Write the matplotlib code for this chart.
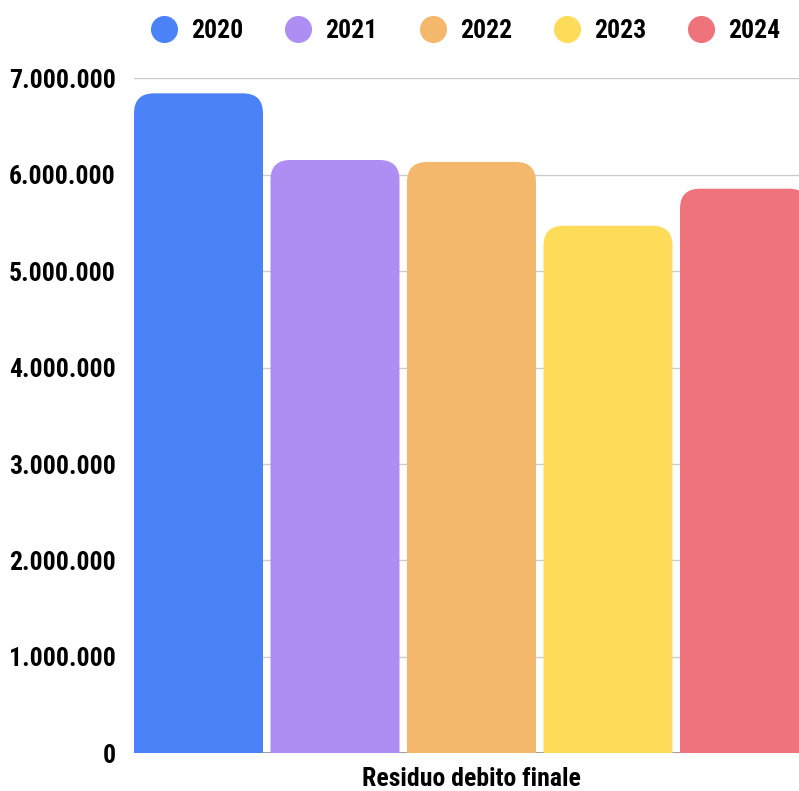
import matplotlib.pyplot as plt
from matplotlib import font_manager as fm
from matplotlib.patches import FancyBboxPatch
from matplotlib.lines import Line2D

# font stretto se disponibile
names = {f.name for f in fm.fontManager.ttflist}
font = 'DejaVu Sans'
for cand in ['Liberation Sans Narrow', 'Roboto Condensed', 'Open Sans Condensed',
             'Noto Sans Condensed']:
    if cand in names:
        font = cand
        break
plt.rcParams['font.family'] = [font, 'DejaVu Sans']
plt.rcParams['font.stretch'] = 'condensed'
plt.rcParams['font.weight'] = 'bold'

# dati
categories = ['Residuo debito finale']
years = ['2020', '2021', '2022', '2023', '2024']
values = [6844000, 6153000, 6132000, 5471000, 5855000]
colors = ['#4c82f7', '#af8ef3', '#f3b86c', '#fedc5a', '#ef737b']

fig = plt.figure(figsize=(7.99, 7.91), dpi=100)
ax = fig.add_axes([134 / 799, 37.7 / 791, 675 / 799, 675 / 791])

n = len(years)
slot = 1.0 / n
bar_w = slot * 0.945
for i, (y, v, c) in enumerate(zip(years, values, colors)):
    xpos = (i - (n - 1) / 2) * slot
    bars = ax.bar(xpos, v, width=bar_w, color=c, label=y)
    # sostituisco con rettangoli arrotondati in alto
    for r in bars:
        r.set_visible(False)
        px_x = 682.5          # pixel per unità x
        px_y = 96.43 / 1e6    # pixel per unità y
        rad = 20
        rx = rad / px_x
        ry = rad / px_y
        p = FancyBboxPatch((r.get_x(), -2 * ry), r.get_width(), r.get_height() + 2 * ry,
                           boxstyle=f'round,pad=0,rounding_size={rx}',
                           mutation_aspect=ry / rx, facecolor=c, edgecolor='none',
                           zorder=2)
        ax.add_patch(p)

ax.set_xlim(-0.4945, 0.4945)
ax.set_ylim(0, 7000000)
ax.set_yticks(range(0, 7000001, 1000000))
ax.set_yticklabels([f'{t:,}'.replace(',', '.') for t in range(0, 7000001, 1000000)])
ax.set_xticks([0], categories)

ax.grid(axis='y', color='#cccccc', linewidth=1)
ax.set_axisbelow(True)
ax.axhline(0, color='#9e9e9e', linewidth=1.5, zorder=1)
for s in ax.spines.values():
    s.set_visible(False)
fs = 18.5 if font != 'DejaVu Sans' else 16
ax.tick_params(axis='y', length=0, pad=13, labelsize=fs)
ax.tick_params(axis='x', length=0, pad=10, labelsize=fs)

handles = [Line2D([], [], marker='o', linestyle='none', markersize=19.5,
                  markerfacecolor=c, markeredgecolor='none') for c in colors]
fig.legend(handles, years, loc='center', bbox_to_anchor=(467 / 799, 1 - 31 / 791),
           ncol=5, frameon=False, fontsize=fs, handlelength=0.8,
           handletextpad=0.65, columnspacing=1.75)

fig.savefig('out.png', dpi=100)
